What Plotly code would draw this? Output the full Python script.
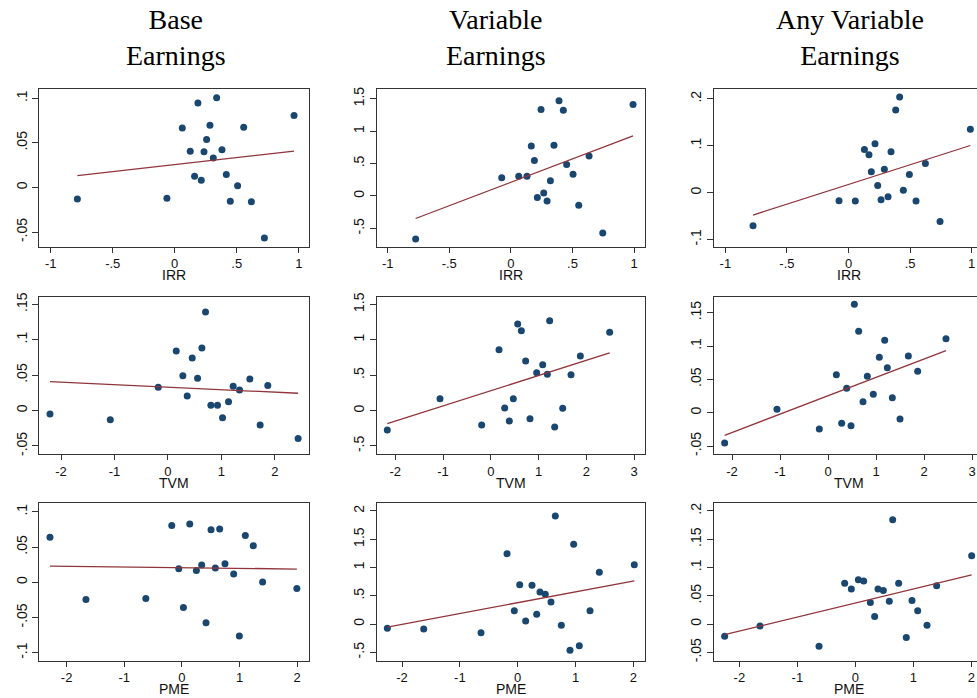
import plotly.graph_objects as go
import numpy as np

W, H = 977, 698

col_titles = ["Base<br>Earnings", "Variable<br>Earnings", "Any Variable<br>Earnings"]
row_xlabels = ["IRR", "TVM", "PME"]

# ---------------- data ----------------
# Row 1: IRR
irr_base_x = [-0.785, -0.063, 0.061, 0.125, 0.160, 0.187, 0.214, 0.236, 0.257, 0.284,
              0.311, 0.338, 0.381, 0.416, 0.448, 0.507, 0.556, 0.618, 0.723, 0.962]
irr_base_y = [-0.013, -0.012, 0.0668, 0.0407, 0.0127, 0.0948, 0.0082, 0.040, 0.0537, 0.0698,
              0.0332, 0.1007, 0.0422, 0.0146, -0.0153, 0.0019, 0.0675, -0.016, -0.0567, 0.0806]
irr_var_x = [-0.773, -0.074, 0.064, 0.131, 0.166, 0.191, 0.215, 0.245, 0.267, 0.294,
             0.321, 0.350, 0.391, 0.426, 0.453, 0.505, 0.551, 0.635, 0.746, 0.992]
irr_var_y = [-0.665, 0.280, 0.306, 0.306, 0.771, 0.549, -0.025, 1.335, 0.048, -0.076,
             0.234, 0.782, 1.469, 1.324, 0.487, 0.337, -0.143, 0.616, -0.572, 1.412]
irr_any_x = [-0.775, -0.077, 0.055, 0.129, 0.166, 0.185, 0.215, 0.237, 0.264, 0.291,
             0.321, 0.345, 0.383, 0.415, 0.445, 0.494, 0.548, 0.624, 0.743, 0.989]
irr_any_y = [-0.0705, -0.0173, -0.018, 0.092, 0.0806, 0.0446, 0.104, 0.0151, -0.015, 0.0496,
             -0.0086, 0.087, 0.176, 0.204, 0.005, 0.0388, -0.018, 0.0619, -0.0619, 0.135]

# Row 2: TVM
tvm_base_x = [-2.206, -1.078, -0.181, 0.156, 0.280, 0.361, 0.455, 0.555, 0.636, 0.704,
              0.804, 0.928, 1.022, 1.134, 1.221, 1.340, 1.533, 1.726, 1.869, 2.436]
tvm_base_y = [-0.0048, -0.0128, 0.0328, 0.0841, 0.0493, 0.0206, 0.0742, 0.0455, 0.0884, 0.1392,
              0.0074, 0.0074, -0.010, 0.0126, 0.0342, 0.0291, 0.0446, -0.0204, 0.0352, -0.0396]
tvm_var_x = [-2.168, -1.064, -0.191, 0.172, 0.291, 0.388, 0.472, 0.563, 0.640, 0.730,
             0.821, 0.961, 1.087, 1.184, 1.233, 1.338, 1.506, 1.680, 1.876, 2.490]
tvm_var_y = [-0.274, 0.168, -0.204, 0.860, 0.036, -0.147, 0.168, 1.222, 1.128, 0.700,
             -0.114, 0.535, 0.648, 0.512, 1.269, -0.232, 0.032, 0.507, 0.771, 1.105]
tvm_any_x = [-2.153, -1.063, -0.181, 0.174, 0.285, 0.389, 0.479, 0.549, 0.639, 0.729,
             0.819, 0.944, 1.069, 1.181, 1.236, 1.340, 1.500, 1.674, 1.868, 2.458]
tvm_any_y = [-0.0455, 0.005, -0.0245, 0.057, -0.016, 0.0365, -0.0195, 0.1625, 0.122, 0.0165,
             0.0545, 0.0275, 0.083, 0.1085, 0.0675, 0.0225, -0.0095, 0.085, 0.062, 0.111]

# Row 3: PME
pme_base_x = [-2.289, -1.665, -0.626, -0.176, -0.055, 0.026, 0.136, 0.251, 0.343, 0.418,
              0.505, 0.580, 0.655, 0.747, 0.898, 0.996, 1.100, 1.238, 1.400, 1.994]
pme_base_y = [0.064, -0.0244, -0.0229, 0.0806, 0.0191, -0.0357, 0.0825, 0.0168, 0.0243, -0.0574,
              0.0745, 0.0201, 0.0754, 0.0262, 0.0116, -0.0764, 0.0664, 0.0518, 0.0002, -0.0087]
pme_var_x = [-2.254, -1.625, -0.634, -0.184, -0.058, 0.035, 0.138, 0.248, 0.329, 0.386,
             0.478, 0.576, 0.651, 0.755, 0.905, 0.968, 1.066, 1.251, 1.412, 2.017]
pme_var_y = [-0.075, -0.087, -0.152, 1.245, 0.237, 0.697, 0.054, 0.685, 0.172, 0.567,
             0.526, 0.390, 1.912, -0.022, -0.465, 1.410, -0.382, 0.237, 0.915, 1.051]
pme_any_x = [-2.253, -1.644, -0.626, -0.184, -0.069, 0.052, 0.144, 0.259, 0.333, 0.391,
             0.483, 0.586, 0.644, 0.747, 0.879, 0.977, 1.075, 1.236, 1.402, 2.006]
pme_any_y = [-0.0217, -0.0034, -0.0394, 0.072, 0.062, 0.0785, 0.0762, 0.0379, 0.0131, 0.062,
             0.0591, 0.0402, 0.1847, 0.072, -0.024, 0.0414, 0.0237, -0.0022, 0.0679, 0.121]

# fitted-line coefficients (intercept, slope)
fit_intercepts = [[0.0257, 0.2106, 0.0173],
                  [0.0330, 0.2798, 0.0254],
                  [0.0207, 0.378, 0.0371]]
fit_slopes = [[0.0157, 0.7215, 0.0841],
              [-0.00352, 0.2144, 0.02754],
              [-0.00098, 0.191, 0.02488]]

# tick labels
x_ticks_irr = [-1, -0.5, 0, 0.5, 1]
x_ticktext_irr = ["-1", "-.5", "0", ".5", "1"]
x_ticks_tvm_base = [-2, -1, 0, 1, 2]
x_ticks_tvm = [-2, -1, 0, 1, 2, 3]
x_ticks_pme = [-2, -1, 0, 1, 2]

y_ticks = [
    [([-0.05, 0, 0.05, 0.1], ["-.05", "0", ".05", ".1"]),
     ([-0.5, 0, 0.5, 1, 1.5], ["-.5", "0", ".5", "1", "1.5"]),
     ([-0.1, 0, 0.1, 0.2], ["-.1", "0", ".1", ".2"])],
    [([-0.05, 0, 0.05, 0.1, 0.15], ["-.05", "0", ".05", ".1", ".15"]),
     ([-0.5, 0, 0.5, 1, 1.5], ["-.5", "0", ".5", "1", "1.5"]),
     ([-0.05, 0, 0.05, 0.1, 0.15], ["-.05", "0", ".05", ".1", ".15"])],
    [([-0.1, -0.05, 0, 0.05, 0.1], ["-.1", "-.05", "0", ".05", ".1"]),
     ([-0.5, 0, 0.5, 1, 1.5, 2], ["-.5", "0", ".5", "1", "1.5", "2"]),
     ([-0.05, 0, 0.05, 0.1, 0.15, 0.2], ["-.05", "0", ".05", ".1", ".15", ".2"])],
]
x_ticks = [[x_ticks_irr] * 3, [x_ticks_tvm_base, x_ticks_tvm, x_ticks_tvm], [x_ticks_pme] * 3]

# ---------------- layout geometry ----------------
xs = [[irr_base_x, irr_var_x, irr_any_x], [tvm_base_x, tvm_var_x, tvm_any_x], [pme_base_x, pme_var_x, pme_any_x]]
ys = [[irr_base_y, irr_var_y, irr_any_y], [tvm_base_y, tvm_var_y, tvm_any_y], [pme_base_y, pme_var_y, pme_any_y]]

col_px = [(39.3, 308.8), (376.7, 645.0), (714.0, 977.0)]
row_px = [(89.0, 246.5), (296.7, 454.0), (503.3, 660.7)]

x_ranges = [[(-1.092, 1.081), (-1.089, 1.089), (-1.092, 1.043)],
            [(-2.406, 2.636), (-2.390, 3.230), (-2.375, 3.104)],
            [(-2.474, 2.201), (-2.438, 2.202), (-2.437, 2.098)]]
y_ranges = [[(-0.0661, 0.1104), (-0.779, 1.650), (-0.115, 0.221)],
            [(-0.0613, 0.1607), (-0.613, 1.607), (-0.062, 0.174)],
            [(-0.1113, 0.112), (-0.648, 2.136), (-0.0649, 0.2136)]]

NAVY = "#1a476f"
MAROON = "#90353b"
AXC = "#333333"
tick_font = dict(family="Liberation Sans, Arial, sans-serif", size=14, color="#111")
xtick_font = dict(family="Liberation Sans, Arial, sans-serif", size=13, color="#111")

fig = go.Figure()
layout = dict(
    width=W, height=H, margin=dict(l=0, r=0, t=0, b=0),
    paper_bgcolor="white", plot_bgcolor="white", showlegend=False,
)
annotations = []

for r in range(3):
    for c in range(3):
        k = r * 3 + c + 1
        xa = "x" if k == 1 else f"x{k}"
        ya = "y" if k == 1 else f"y{k}"
        xk = "xaxis" if k == 1 else f"xaxis{k}"
        yk = "yaxis" if k == 1 else f"yaxis{k}"
        x = np.array(xs[r][c])
        y = np.array(ys[r][c])
        fig.add_trace(go.Scatter(x=x, y=y, mode="markers", xaxis=xa, yaxis=ya,
                                 marker=dict(color=NAVY, size=7, line=dict(width=0)),
                                 hoverinfo="skip"))
        xl = np.array([x.min(), x.max()])
        yl = fit_intercepts[r][c] + fit_slopes[r][c] * xl
        fig.add_trace(go.Scatter(x=xl, y=yl, mode="lines", xaxis=xa, yaxis=ya,
                                 line=dict(color=MAROON, width=1.3), hoverinfo="skip"))
        x0, x1 = col_px[c]
        y0, y1 = row_px[r]
        xt = x_ticks[r][c]
        xtt = x_ticktext_irr if r == 0 else [str(v) for v in xt]
        yv, ytt = y_ticks[r][c]
        layout[xk] = dict(
            domain=[x0 / W, x1 / W], range=list(x_ranges[r][c]), anchor=ya,
            showgrid=False, zeroline=False, showline=True, linecolor=AXC, linewidth=1,
            mirror=True, ticks="outside", ticklen=5, tickcolor=AXC,
            tickvals=xt, ticktext=xtt, tickfont=xtick_font,
            automargin=False, fixedrange=True,
        )
        layout[yk] = dict(
            domain=[1 - y1 / H, 1 - y0 / H], range=list(y_ranges[r][c]), anchor=xa,
            showgrid=False, zeroline=False, showline=True, linecolor=AXC, linewidth=1,
            mirror=(c != 2), ticks="outside", ticklen=6, tickcolor=AXC,
            tickvals=yv, ticktext=ytt, tickfont=tick_font, tickangle=-90,
            automargin=False, fixedrange=True,
        )
        # axis title (placed just under the tick labels, as in the reference)
        annotations.append(dict(
            text=row_xlabels[r], x=(x0 + x1) / 2 / W if c != 2 else (x0 + 983) / 2 / W,
            y=1 - (y1 + 28.5) / H, xref="paper", yref="paper",
            xanchor="center", yanchor="middle", showarrow=False,
            borderpad=0, font=tick_font,
        ))

title_centers = [176, 496, 849.5]
for c in range(3):
    annotations.append(dict(
        text=col_titles[c], x=title_centers[c] / W, y=1 - 37 / H,
        xref="paper", yref="paper", xanchor="center", yanchor="middle",
        showarrow=False, align="center",
        font=dict(family="Liberation Serif, Times New Roman, serif", size=28, color="#000"),
    ))
layout["annotations"] = annotations
fig.update_layout(**layout)

fig.write_html("out.html")
